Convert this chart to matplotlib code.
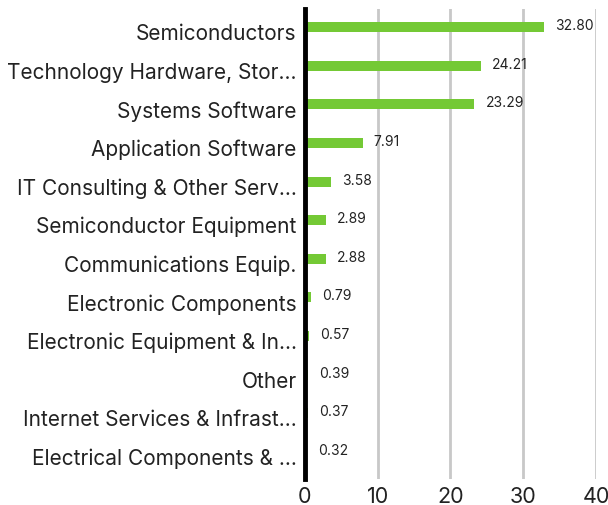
import matplotlib
matplotlib.use("Agg")
from matplotlib import pyplot as plt
from matplotlib.transforms import ScaledTranslation

categories = ["Semiconductors", "Technology Hardware, Stor...", "Systems Software",
              "Application Software", "IT Consulting & Other Serv...",
              "Semiconductor Equipment", "Communications Equip.",
              "Electronic Components", "Electronic Equipment & In...", "Other",
              "Internet Services & Infrast...", "Electrical Components & ..."]
values = [32.80, 24.21, 23.29, 7.91, 3.58, 2.89, 2.88, 0.79, 0.57, 0.39, 0.37, 0.32]
xticks = [0, 10, 20, 30, 40]

plt.rcParams['font.family'] = ['Inter', 'DejaVu Sans']

fig = plt.figure(figsize=(6.08, 5.06), dpi=100)
ax = fig.add_axes([0.5016, 0.0514, 0.4786, 0.9286])

ypos = list(range(len(categories)))
ax.barh(ypos, values, height=0.26, color="#74c935", zorder=3)
for y, v in zip(ypos, values):
    ax.annotate(f"{v:.2f}", (v, y), xytext=(8, 1.5), textcoords="offset points",
                ha="left", va="center", fontsize=10, color="#222222")

ax.set_xlim(0, 40)
ax.set_ylim(11.70, -0.466)
ax.set_xticks(xticks)
ax.set_xticklabels([str(t) for t in xticks], fontsize=15.5, color="#222222")
ax.set_yticks(ypos)
ax.set_yticklabels(categories, fontsize=15, color="#222222")
ax.tick_params(axis="both", length=0)
ax.tick_params(axis="y", pad=6)
ax.tick_params(axis="x", pad=5)

# category labels sit a little below the bar centre
shift = ScaledTranslation(0, -4 / 100, fig.dpi_scale_trans)
for lbl in ax.get_yticklabels():
    lbl.set_transform(lbl.get_transform() + shift)

ax.grid(axis="x", color="#c8c8c8", linewidth=2, zorder=0)
for s in ["top", "right", "bottom"]:
    ax.spines[s].set_visible(False)
ax.spines["left"].set_linewidth(3.5)
ax.spines["left"].set_color("black")
ax.spines["left"].set_zorder(4)

fig.savefig("out.png", dpi=100)
